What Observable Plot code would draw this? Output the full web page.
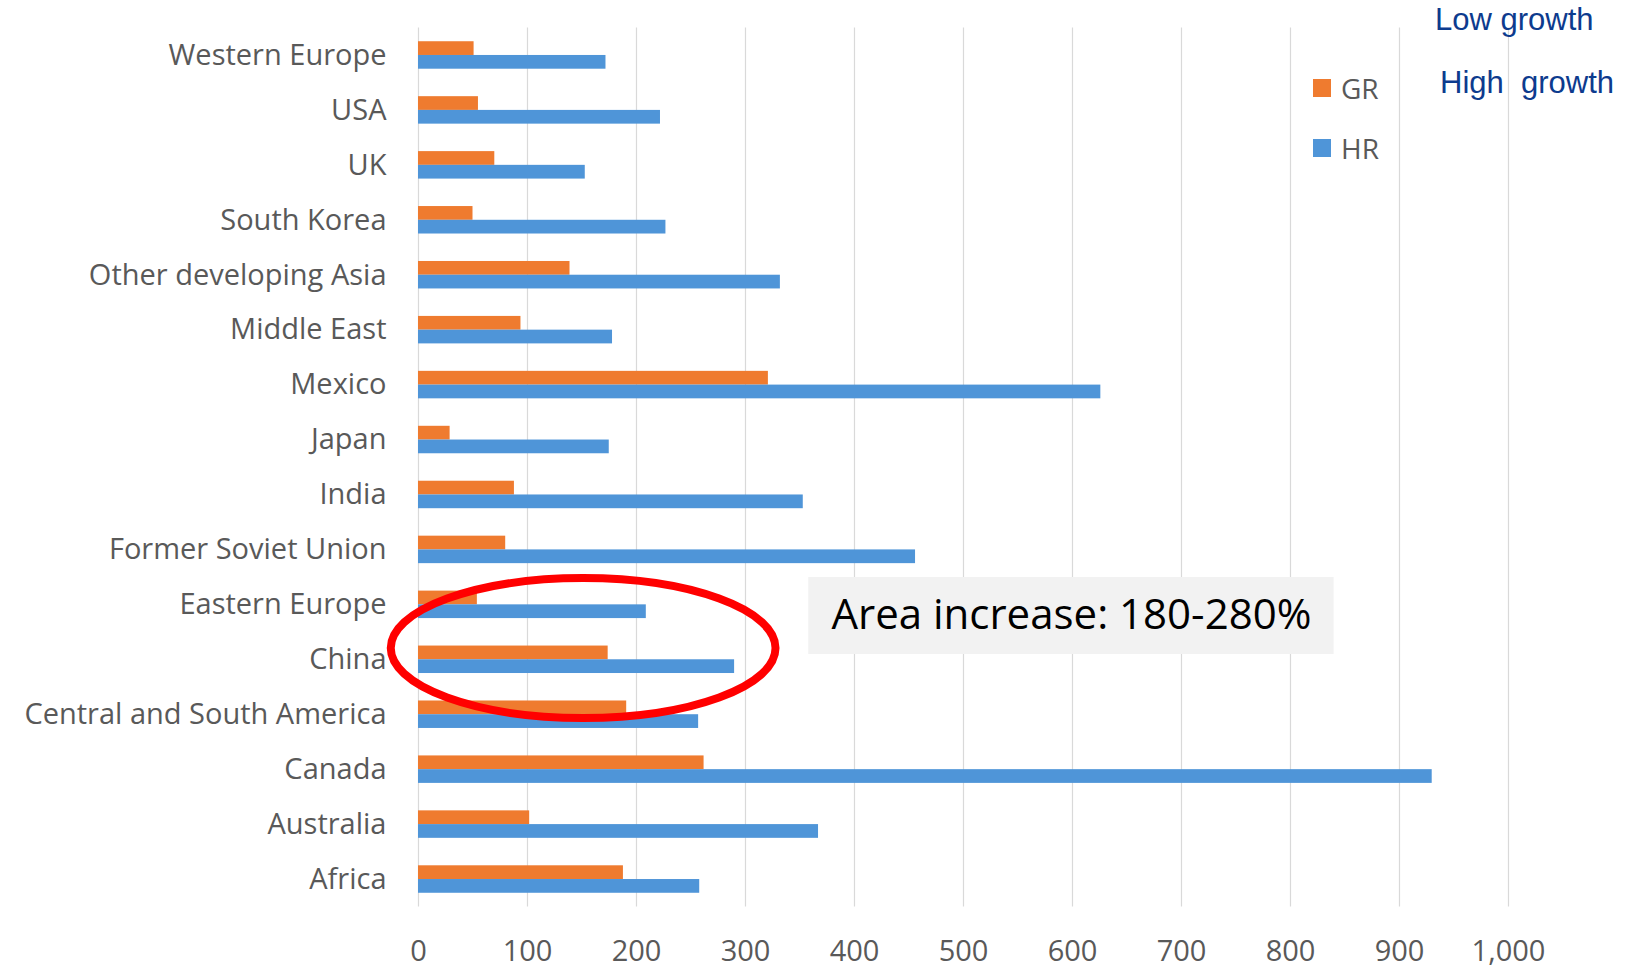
<!DOCTYPE html>
<html>
<head>
<meta charset="utf-8">
<script src="https://cdn.jsdelivr.net/npm/d3@7"></script>
<script src="https://cdn.jsdelivr.net/npm/@observablehq/plot@0.6"></script>
<style>
  body { margin: 0; background: #fff; }
  #wrap { position: relative; width: 1627px; height: 970px; overflow: hidden; }
  .growth { position: absolute; font-family: "Liberation Sans", Arial, sans-serif; font-size: 31px; color: #0d3b8e; white-space: pre; line-height: 1; }
  .legend { position: absolute; font-family: "Open Sans", sans-serif; font-size: 28px; color: #595959; line-height: 1; display: flex; align-items: center; }
  .legend i { display: inline-block; width: 18px; height: 18px; margin-right: 10px; }
</style>
</head>
<body>
<div id="wrap"></div>
<script>
// Regions, top to bottom
const regions = [
  "Western Europe", "USA", "UK", "South Korea", "Other developing Asia",
  "Middle East", "Mexico", "Japan", "India", "Former Soviet Union",
  "Eastern Europe", "China", "Central and South America", "Canada",
  "Australia", "Africa"
];
// GR and HR series, same order as regions
const grValues = [51, 55, 70, 50, 139, 94, 321, 29, 88, 80, 54, 174, 191, 262, 102, 188];
const hrValues = [172, 222, 153, 227, 332, 178, 626, 175, 353, 456, 209, 290, 257, 930, 367, 258];
const seriesNames = ["GR", "HR"];
const seriesColors = ["#ef7b2f", "#4f95d8"];
const xTicks = [0, 100, 200, 300, 400, 500, 600, 700, 800, 900, 1000];
const noteText = "Area increase: 180-280%";
const noteRange = [358, 840];          // x extent of the note box
const circledRange = [-25, 328];       // x extent of the red ring
const growthLabels = ["Low growth", "High  growth"];

const W = 1627, H = 970;
const mTop = 27.5, mBottom = 63.5, mLeft = 418, mRight = 119;
const step = (H - mTop - mBottom) / regions.length;
const band = step * 0.5;

const rows = regions.map((region, i) => ({ region, GR: grValues[i], HR: hrValues[i] }));

const plot = Plot.plot({
  width: W,
  height: H,
  marginTop: mTop,
  marginBottom: mBottom,
  marginLeft: mLeft,
  marginRight: mRight,
  style: { fontFamily: "'Open Sans', sans-serif", fontSize: "29px", color: "#595959", background: "#fff", overflow: "visible" },
  x: { domain: [0, 1000], label: null },
  y: { domain: regions, paddingInner: 0.5, paddingOuter: 0.25, round: false, label: null },
  marks: [
    Plot.gridX(xTicks, { stroke: "#d9d9d9", strokeOpacity: 1, strokeWidth: 1.2 }),
    Plot.barX(rows, { y: "region", x: "GR", fill: seriesColors[0], insetBottom: band / 2 }),
    Plot.barX(rows, { y: "region", x: "HR", fill: seriesColors[1], insetTop: band / 2 }),
    Plot.axisY({ tickSize: 0, tickPadding: 32, fontSize: 29 }),
    Plot.axisX({ ticks: xTicks, tickFormat: d3.format(","), tickSize: 0, tickPadding: 33, fontSize: 29 }),
    // note box and its text, anchored to the Eastern Europe row
    Plot.barX([noteText], { y: () => "Eastern Europe", x1: noteRange[0], x2: noteRange[1], fill: "#f2f2f2", insetTop: -13.6, insetBottom: -35.9 }),
    Plot.text([noteText], { y: () => "Eastern Europe", x: (noteRange[0] + noteRange[1]) / 2, dy: 11, text: d => d, fill: "#000", fontSize: 42, fontFamily: "'Open Sans', sans-serif" })
  ]
});

// Red ring around the Eastern Europe / China rows
const xs = plot.scale("x"), ys = plot.scale("y");
const x0 = xs.apply(circledRange[0]), x1 = xs.apply(circledRange[1]);
const yTop = ys.apply("Eastern Europe") - 12.5;
const yBot = ys.apply("China") + ys.bandwidth + 45;
d3.select(plot).append("ellipse")
  .attr("cx", (x0 + x1) / 2)
  .attr("cy", (yTop + yBot) / 2)
  .attr("rx", (x1 - x0) / 2)
  .attr("ry", (yBot - yTop) / 2)
  .attr("fill", "none")
  .attr("stroke", "#ff0000")
  .attr("stroke-width", 8);

const wrap = document.getElementById("wrap");
wrap.appendChild(plot);

// Legend
seriesNames.forEach((name, i) => {
  const el = document.createElement("div");
  el.className = "legend";
  el.style.left = "1313px";
  el.style.top = (i === 0 ? 74 : 134) + "px";
  el.innerHTML = `<i style="background:${seriesColors[i]}"></i>${name}`;
  wrap.appendChild(el);
});

// Growth notes at the top right
growthLabels.forEach((t, i) => {
  const el = document.createElement("div");
  el.className = "growth";
  el.style.left = (i === 0 ? 1435 : 1440) + "px";
  el.style.top = (i === 0 ? 4 : 67) + "px";
  el.textContent = t;
  wrap.appendChild(el);
});
</script>
</body>
</html>
